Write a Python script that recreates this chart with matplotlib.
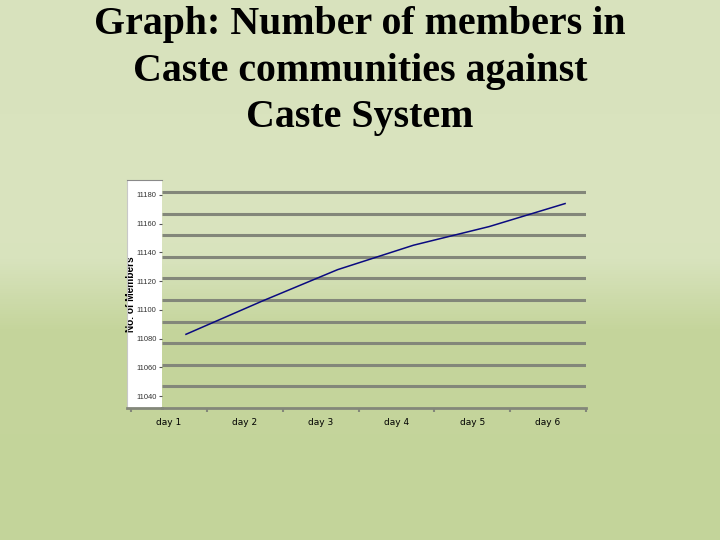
import matplotlib
matplotlib.use("Agg")
import matplotlib.pyplot as plt
import matplotlib.transforms as mtransforms
from matplotlib.colors import LinearSegmentedColormap
import numpy as np

days = ["day 1", "day 2", "day 3", "day 4", "day 5", "day 6"]
members = [11083, 11106, 11128, 11145, 11158, 11174]
ytick_vals = [11040, 11060, 11080, 11100, 11120, 11140, 11160, 11180]

title = "Graph: Number of members in\nCaste communities against\nCaste System"

W, H = 720, 540
fig = plt.figure(figsize=(7.2, 5.4), dpi=100)

# slide background gradient
bg = fig.add_axes([0, 0, 1, 1])
cmap = LinearSegmentedColormap.from_list(
    "slide", [(0.0, "#d8e2bd"), (0.42, "#dae4bf"), (0.48, "#d8e3bd"),
              (0.61, "#c5d59c"), (1.0, "#c3d49a")])
grad = np.linspace(0, 1, 540).reshape(-1, 1)
bg.imshow(grad, aspect="auto", cmap=cmap, extent=[0, 1, 0, 1], origin="upper")
bg.axis("off")

fig.text(0.5, 1 - 71 / H, title, ha="center", va="center",
         family="Liberation Serif", weight="bold", fontsize=28.7, linespacing=1.35)

# pixel frame of the chart
panel_l, grid_l, right, top, bottom = 127, 162, 586, 180, 408
ylo, yhi = 11031.7, 11190.4

# white panel behind the value axis
pax = fig.add_axes([panel_l / W, 1 - bottom / H, (grid_l - panel_l) / W, (bottom - top) / H])
pax.set_facecolor("white")
pax.set_xlim(0, 1)
pax.set_ylim(ylo, yhi)
pax.set_yticks([])
pax.set_xticks([0.114])
pax.set_xticklabels([])
pax.tick_params(axis="x", length=3, color="#83877a", width=1.5)
pax.spines["right"].set_visible(False)
pax.spines["top"].set_color("#8a8a8a")
pax.spines["left"].set_color("#c8c8c8")
pax.spines["left"].set_linewidth(0.8)
pax.spines["bottom"].set_color("#83877a")
pax.spines["bottom"].set_linewidth(2)
pax.set_ylabel("No. of Members", fontsize=7.3, weight="bold", family="Liberation Sans")
pax.yaxis.set_label_coords(0.27, 0.5)

# main plot area
ax = fig.add_axes([grid_l / W, 1 - bottom / H, (right - grid_l) / W, (bottom - top) / H])
ax.set_facecolor("none")
ax.set_xlim(-0.092, 5.50)
ax.set_ylim(ylo, yhi)

# horizontal grid
step = 15.04
gy = ylo + step * np.arange(1, 11)
ax.hlines(gy, -0.092, 5.50, color="#83877a", lw=2.2, zorder=1)

# data line (shifted right as in the original)
shift = mtransforms.ScaledTranslation(17 / 100, 0, fig.dpi_scale_trans)
ax.plot(range(len(days)), members, color="#0a0a80", lw=1.1, zorder=3,
        transform=ax.transData + shift)

for s in ["top", "right", "left"]:
    ax.spines[s].set_visible(False)
ax.spines["bottom"].set_color("#83877a")
ax.spines["bottom"].set_linewidth(2)

ax.set_xticks(range(len(days)))
ax.set_xticklabels(days, fontsize=6.5, family="DejaVu Sans")
ax.set_xticks(np.arange(0.5, 6, 1), minor=True)
ax.tick_params(axis="x", which="major", length=0, pad=7)
ax.tick_params(axis="x", which="minor", length=3, color="#83877a", width=1.5)

ax.set_yticks(ytick_vals)
ax.set_yticklabels([str(v) for v in ytick_vals], fontsize=5.5,
                   family="Liberation Sans", color="#333333")
ax.tick_params(axis="y", direction="out", length=2, pad=2, color="#555555", width=0.8)

fig.savefig("out.png", dpi=100)
